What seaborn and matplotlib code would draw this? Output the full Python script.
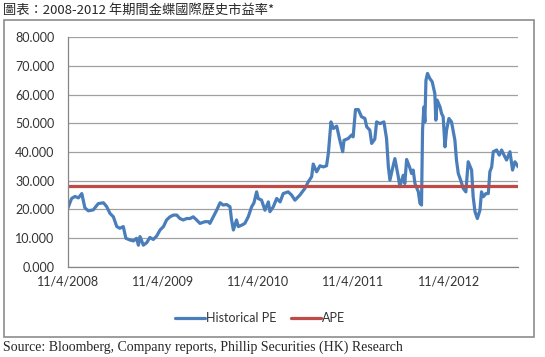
import pandas as pd
import seaborn as sns
import matplotlib
matplotlib.use("Agg")
import matplotlib.pyplot as plt
from matplotlib.patches import Rectangle
from matplotlib.lines import Line2D

# ---- data ----
dates = [
    "2008-04-11", "2008-04-26", "2008-05-09", "2008-05-22", "2008-06-04", "2008-06-16",
    "2008-06-29", "2008-07-18", "2008-08-06", "2008-08-26", "2008-09-07", "2008-09-20",
    "2008-10-03", "2008-10-16", "2008-10-28", "2008-11-10", "2008-11-20", "2008-12-06",
    "2008-12-19", "2008-12-31", "2009-01-07", "2009-01-13", "2009-01-26", "2009-02-08",
    "2009-02-20", "2009-03-05", "2009-03-18", "2009-03-31", "2009-04-13", "2009-04-25",
    "2009-05-08", "2009-05-21", "2009-06-03", "2009-06-15", "2009-06-28", "2009-07-11",
    "2009-07-24", "2009-08-05", "2009-08-18", "2009-08-31", "2009-09-19", "2009-10-02",
    "2009-10-08", "2009-10-21", "2009-11-03", "2009-11-16", "2009-11-28", "2009-12-11",
    "2009-12-24", "2009-12-30", "2010-01-06", "2010-01-18", "2010-01-25", "2010-02-07",
    "2010-02-19", "2010-03-04", "2010-03-17", "2010-03-26", "2010-04-05", "2010-04-11",
    "2010-04-24", "2010-05-07", "2010-05-20", "2010-05-26", "2010-06-08", "2010-06-21",
    "2010-07-04", "2010-07-16", "2010-08-04", "2010-08-17", "2010-08-30", "2010-09-18",
    "2010-10-07", "2010-10-20", "2010-11-02", "2010-11-08", "2010-11-21", "2010-12-04",
    "2010-12-17", "2010-12-29", "2011-01-05", "2011-01-15", "2011-01-24", "2011-02-06",
    "2011-02-18", "2011-03-01", "2011-03-06", "2011-03-22", "2011-04-04", "2011-04-10",
    "2011-04-19", "2011-04-30", "2011-05-12", "2011-05-25", "2011-06-01", "2011-06-13",
    "2011-06-20", "2011-07-02", "2011-07-09", "2011-07-22", "2011-08-06", "2011-08-16",
    "2011-08-23", "2011-08-29", "2011-09-08", "2011-09-17", "2011-09-30", "2011-10-06",
    "2011-10-19", "2011-10-25", "2011-11-01", "2011-11-14", "2011-11-20", "2011-11-26",
    "2011-12-03", "2011-12-16", "2011-12-22", "2011-12-28", "2012-01-01", "2012-01-06",
    "2012-01-10", "2012-01-14", "2012-01-20", "2012-01-29", "2012-02-07", "2012-02-17",
    "2012-02-21", "2012-02-26", "2012-03-08", "2012-03-14", "2012-03-20", "2012-03-27",
    "2012-04-02", "2012-04-11", "2012-04-21", "2012-05-04", "2012-05-10", "2012-05-17",
    "2012-05-26", "2012-06-05", "2012-06-15", "2012-06-24", "2012-07-07", "2012-07-13",
    "2012-07-20", "2012-07-29", "2012-08-08", "2012-08-14", "2012-08-21", "2012-08-31",
    "2012-09-09", "2012-09-15", "2012-09-22", "2012-09-28", "2012-10-11", "2012-10-21",
    "2012-10-30", "2012-11-05", "2012-11-18", "2012-12-01", "2012-12-11", "2012-12-20",
    "2013-01-02",
]
historical_pe = [
    20.3, 23.8, 24.5, 24.0, 25.5, 20.5,
    19.5, 19.8, 22.0, 22.3, 21.0, 18.6,
    17.4, 14.0, 13.4, 14.0, 9.9, 9.3,
    9.0, 9.9, 7.5, 10.5, 7.5, 8.4,
    10.2, 9.5, 10.7, 12.8, 14.0, 16.3,
    17.4, 18.0, 18.0, 16.8, 16.3, 16.8,
    16.8, 17.4, 16.3, 15.1, 15.7, 15.7,
    15.1, 17.4, 19.7, 22.3, 21.5, 21.7,
    20.9, 16.3, 12.8, 16.3, 14.0, 14.5,
    15.1, 17.4, 20.9, 22.3, 26.1, 23.8,
    23.2, 19.7, 22.6, 19.2, 20.9, 23.8,
    22.6, 25.5, 26.1, 25.0, 23.2, 25.0,
    27.3, 29.6, 31.4, 35.8, 33.1, 35.2,
    34.8, 35.2, 39.5, 50.5, 48.2, 49.0,
    44.1, 40.1, 44.1, 44.7, 45.9, 45.3,
    54.8, 54.8, 52.3, 51.7, 48.8, 47.6,
    43.0, 44.5, 50.5, 49.9, 50.5, 44.7,
    34.8, 30.2, 34.3, 37.7, 31.4, 27.9,
    31.9, 29.0, 37.4, 34.3, 32.5, 33.7,
    29.0, 26.1, 22.1, 21.5, 47.6, 55.7,
    50.5, 65.0, 67.4, 65.6, 64.5, 60.4,
    51.1, 58.1, 55.7, 53.4, 52.3, 41.8,
    47.6, 51.7, 50.5, 44.1, 37.2, 32.5,
    30.2, 27.3, 26.1, 36.6, 33.7, 24.4,
    19.2, 16.8, 19.7, 26.1, 24.4, 25.5,
    25.5, 33.1, 34.8, 40.1, 40.7, 38.9,
    40.7, 39.5, 37.2, 40.1, 33.7, 36.6,
    34.8,
]
ape = 28.3
tick_dates = ["2008-04-11", "2009-04-11", "2010-04-11", "2011-04-11", "2012-04-11"]
tick_labels = ["11/4/2008", "11/4/2009", "11/4/2010", "11/4/2011", "11/4/2012"]
title = "圖表：2008-2012 年期間金蝶國際歷史市益率*"
source = "Source: Bloomberg, Company reports, Phillip Securities (HK) Research"

df = pd.DataFrame({"date": pd.to_datetime(dates), "pe": historical_pe})
df["ape"] = ape

sns.set_style("white")
plt.rcParams["font.family"] = ["Lato", "DejaVu Sans"]

BLUE = "#4A7EBB"
RED = "#BE4B48"
GRID = "#A0A0A0"
AXIS = "#868686"

fig = plt.figure(figsize=(5.45, 3.57), dpi=100)
W, H = 545, 357

# outer chart frame
fig.patches.append(Rectangle((4 / W, 1 - 337 / H), 530 / W, 317 / H,
                             transform=fig.transFigure, fill=False,
                             edgecolor="#8C8C8C", linewidth=1.2))

ax = fig.add_axes([67.7 / W, 1 - 266.7 / H, (518.3 - 67.7) / W, (266.7 - 37.3) / H])
sns.lineplot(data=df, x="date", y="pe", ax=ax, color=BLUE, linewidth=2.3, legend=False)
sns.lineplot(data=df, x="date", y="ape", ax=ax, color=RED, linewidth=2.3, legend=False)

ax.set_xlim(pd.Timestamp("2008-04-11"), pd.Timestamp("2013-01-02"))
ax.set_ylim(0, 80)
ax.set_yticks(range(0, 81, 10))
ax.set_yticklabels([f"{v:.3f}" for v in range(0, 81, 10)])
ax.set_xticks(pd.to_datetime(tick_dates))
ax.set_xticklabels(tick_labels)
ax.set_xlabel("")
ax.set_ylabel("")
ax.grid(axis="y", color=GRID, linewidth=0.9)
ax.grid(axis="x", visible=False)
ax.set_axisbelow(True)
for s in ["top", "right"]:
    ax.spines[s].set_visible(False)
for s in ["left", "bottom"]:
    ax.spines[s].set_color(AXIS)
    ax.spines[s].set_linewidth(0.9)
ax.tick_params(axis="y", length=4, width=0.9, color=AXIS, pad=5.5, labelsize=9, labelcolor="#333333")
ax.tick_params(axis="x", length=4, width=0.9, color=AXIS, pad=2, labelsize=9, labelcolor="#333333")

handles = [Line2D([], [], color=BLUE, linewidth=2.3), Line2D([], [], color=RED, linewidth=2.3)]
fig.legend(handles, ["Historical PE", "APE"], loc="center", bbox_to_anchor=(260 / W, 1 - 318 / H),
           ncol=2, frameon=False, fontsize=9, handlelength=2.4, handletextpad=0.1,
           columnspacing=1.2, labelcolor="#333333")

fig.text(3 / W, 1 - 10 / H, title, fontsize=9.5, va="center", ha="left",
         family=["Noto Sans CJK TC", "DejaVu Sans"])
fig.text(3 / W, 1 - 347 / H, source, fontsize=10, va="center", ha="left",
         family=["Liberation Serif"])

fig.savefig("out.png", dpi=100)
